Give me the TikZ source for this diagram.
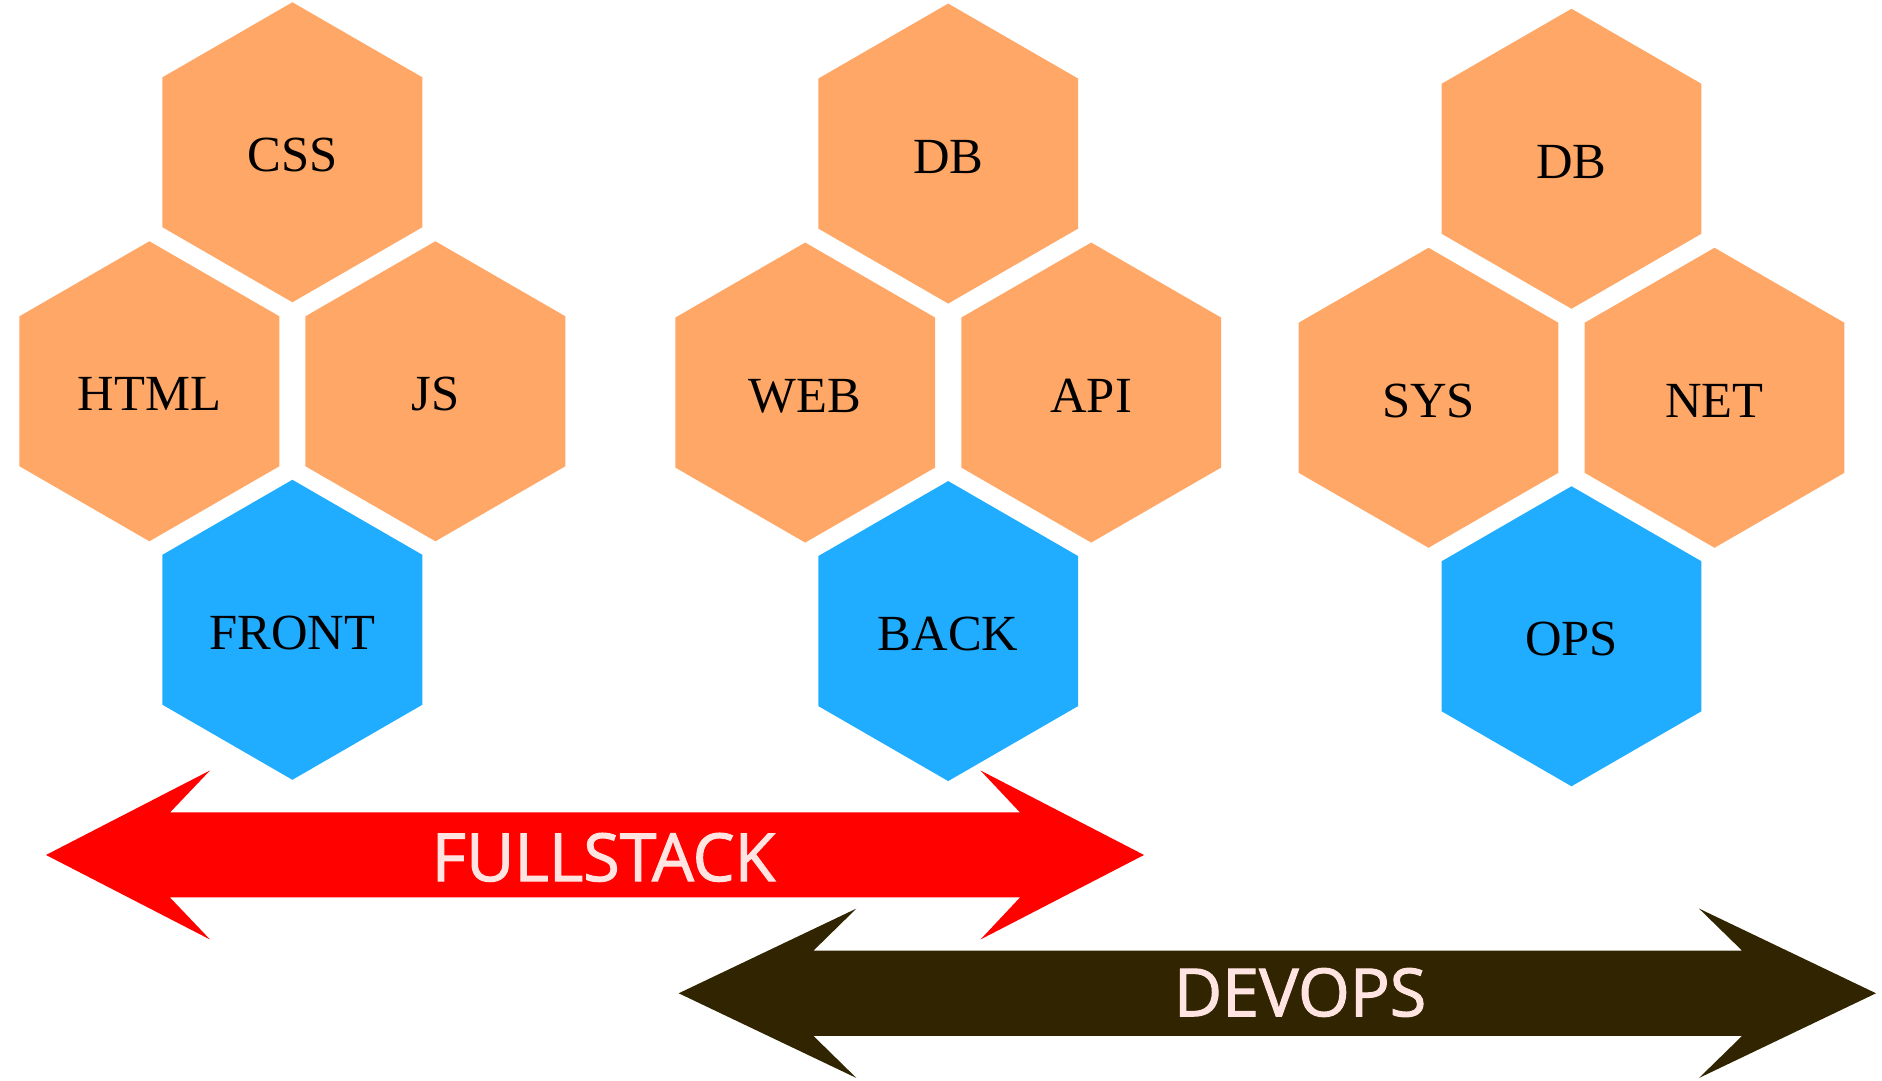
\documentclass[tikz,border=0pt]{standalone}
\usepackage{fontspec}
\setmainfont{Liberation Serif}
\newfontfamily\bandfont{Open Sans}[FakeBold=1.6]
\usetikzlibrary{shapes.geometric}

\definecolor{skillorange}{RGB}{255,167,103}
\definecolor{roleblue}{RGB}{32,173,255}
\definecolor{fullred}{RGB}{255,2,0}
\definecolor{devopsbrown}{RGB}{48,37,0}
\definecolor{bandtext}{RGB}{255,228,225}

\begin{document}
\begin{tikzpicture}[
    every node/.style={font=\fontsize{14.4}{17}\selectfont},
    hexcell/.style={
        regular polygon,
        regular polygon sides=6,
        shape border rotate=30,
        minimum size=3cm,
        inner sep=0pt,
        text height=11.2pt,
        text depth=0pt,
        text=black
    },
    skill/.style={hexcell, fill=skillorange},
    role/.style={hexcell, fill=roleblue},
    bandlabel/.style={
        font=\bandfont\fontsize{18.9}{20}\selectfont,
        text=bandtext,
        inner sep=0pt
    }
]
\useasboundingbox (0,0) rectangle (18.82,10.81);

% ==================== FRONTEND ====================
\node[skill] (css) at (2.924,9.287) {CSS};
\node[skill] (html) at ([shift={(-1.43,-2.39)}]css.center) {HTML};
\node[skill] (js) at ([shift={(1.43,-2.39)}]css.center) {JS};
\node[role] (front) at ([shift={(0,-4.775)}]css.center) {FRONT};

% ==================== BACKEND ====================
\node[skill] (dbback) at (9.482,9.274) {DB};
\node[skill] (web) at ([shift={(-1.43,-2.39)}]dbback.center) {WEB};
\node[skill] (api) at ([shift={(1.43,-2.39)}]dbback.center) {API};
\node[role] (back) at ([shift={(0,-4.775)}]dbback.center) {BACK};

% ==================== OPERATIONS ====================
\node[skill] (dbops) at (15.715,9.222) {DB};
\node[skill] (sys) at ([shift={(-1.43,-2.39)}]dbops.center) {SYS};
\node[skill] (net) at ([shift={(1.43,-2.39)}]dbops.center) {NET};
\node[role] (ops) at ([shift={(0,-4.775)}]dbops.center) {OPS};

% ==================== FULLSTACK BAND ====================
\fill[fullred] (0.46,2.26) -- (2.10,3.105) -- (1.70,2.685) -- (10.20,2.685)
    -- (9.805,3.105) -- (11.44,2.26) -- (9.805,1.415) -- (10.20,1.835)
    -- (1.70,1.835) -- (2.10,1.415) -- cycle;
\node[bandlabel] (fullstack) at (6.035,2.236) {FULLSTACK};

% ==================== DEVOPS BAND ====================
\fill[devopsbrown] (6.787,0.877) -- (8.564,1.724) -- (8.135,1.304) -- (17.42,1.304)
    -- (16.99,1.724) -- (18.76,0.877) -- (16.99,0.030) -- (17.42,0.450)
    -- (8.135,0.450) -- (8.564,0.030) -- cycle;
\node[bandlabel] (devops) at (13.0,0.885) {DEVOPS};

\end{tikzpicture}
\end{document}
